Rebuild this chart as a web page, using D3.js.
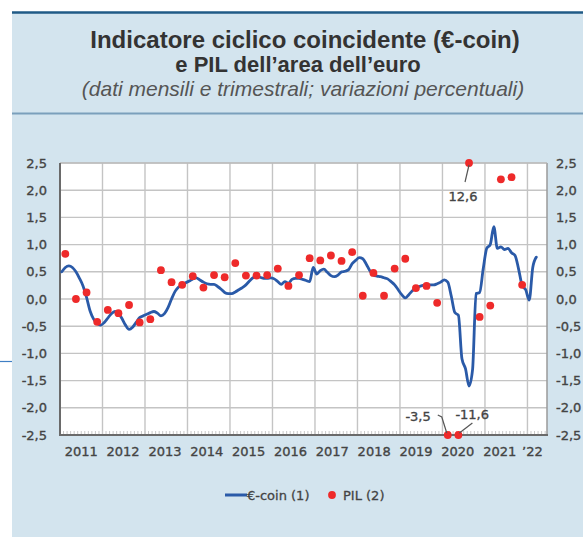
<!DOCTYPE html>
<html><head><meta charset="utf-8">
<script src="https://cdn.jsdelivr.net/npm/d3@7"></script>
<style>html,body{margin:0;padding:0;background:#fff;}svg{display:block;}</style>
</head><body>
<svg id="c" width="583" height="537"></svg>
<script>
// ---- data ----
const years = ["2011","2012","2013","2014","2015","2016","2017","2018","2019","2020","2021","2022"];
const yearLabels = ["2011","2012","2013","2014","2015","2016","2017","2018","2019","2020","2021","’22"];
const yTicks = [-2.5,-2.0,-1.5,-1.0,-0.5,0.0,0.5,1.0,1.5,2.0,2.5];
// €-coin, monthly values, Jan 2011 - Mar 2022
const ecoin2011 = [0.50,0.58,0.61,0.58,0.50,0.38,0.24,0.03,-0.22,-0.37,-0.45,-0.48];
const ecoin2012 = [-0.43,-0.35,-0.27,-0.23,-0.26,-0.36,-0.48,-0.56,-0.52,-0.43,-0.34,-0.31];
const ecoin2013 = [-0.28,-0.25,-0.23,-0.26,-0.31,-0.27,-0.16,0.00,0.14,0.22,0.26,0.30];
const ecoin2014 = [0.33,0.37,0.39,0.35,0.31,0.28,0.27,0.27,0.23,0.18,0.12,0.10];
const ecoin2015 = [0.10,0.13,0.17,0.21,0.26,0.33,0.39,0.41,0.40,0.38,0.38,0.39];
const ecoin2016 = [0.37,0.32,0.27,0.32,0.29,0.36,0.38,0.38,0.36,0.34,0.32,0.58];
const ecoin2017 = [0.46,0.52,0.55,0.49,0.43,0.41,0.44,0.50,0.51,0.54,0.65,0.71];
const ecoin2018 = [0.76,0.74,0.64,0.52,0.44,0.42,0.41,0.39,0.37,0.32,0.26,0.17];
const ecoin2019 = [0.08,0.02,0.08,0.15,0.20,0.23,0.25,0.26,0.26,0.26,0.28,0.31];
const ecoin2020 = [0.35,0.31,0.05,-0.25,-0.30,-1.10,-1.28,-1.60,-1.30,0.10,0.12,0.55];
const ecoin2021 = [0.93,1.00,1.33,0.93,0.96,0.91,0.93,0.85,0.80,0.55,0.25,0.17];
const ecoin2022 = [-0.02,0.58,0.77];
// PIL, quarterly q/q % change, Q1 2011 - Q4 2021
const pil2011 = [0.83,0.00,0.12,-0.42];
const pil2012 = [-0.20,-0.26,-0.11,-0.43];
const pil2013 = [-0.37,0.53,0.31,0.26];
const pil2014 = [0.42,0.21,0.44,0.40];
const pil2015 = [0.66,0.43,0.43,0.44];
const pil2016 = [0.56,0.24,0.44,0.75];
const pil2017 = [0.71,0.80,0.70,0.86];
const pil2018 = [0.06,0.48,0.06,0.56];
const pil2019 = [0.74,0.20,0.24,-0.07];
const pil2020 = [-3.5,-11.6,12.6,-0.33];
const pil2021 = [-0.12,2.20,2.24,0.26];
const legendLabels = ["€-coin (1)","PIL (2)"];
const titleLines = ["Indicatore ciclico coincidente (€-coin)","e PIL dell’area dell’euro"];
const subtitle = "(dati mensili e trimestrali; variazioni percentuali)";

const ecoinByYear = [ecoin2011,ecoin2012,ecoin2013,ecoin2014,ecoin2015,ecoin2016,ecoin2017,ecoin2018,ecoin2019,ecoin2020,ecoin2021,ecoin2022];
const pilByYear = [pil2011,pil2012,pil2013,pil2014,pil2015,pil2016,pil2017,pil2018,pil2019,pil2020,pil2021];
const ecoin = [];
ecoinByYear.forEach((arr,i)=>arr.forEach((v,m)=>ecoin.push({t:+years[i]+(m+0.5)/12, v})));
const pil = [];
pilByYear.forEach((arr,i)=>arr.forEach((v,q)=>pil.push({t:+years[i]+(q+0.5)/4, v})));

// ---- layout ----
const svg = d3.select("#c");
const L=60, R=547, T=163, B=435;
const x = d3.scaleLinear().domain([2011, 2022.46]).range([L,R]);
const y = d3.scaleLinear().domain([-2.5,2.5]).range([B,T]);
const fmt = v => d3.format(".1f")(v).replace(".",",").replace("−","-");
const font = "'DejaVu Sans', Verdana, sans-serif";
const txtCol = "#444";

// panel
svg.append("rect").attr("x",12).attr("y",12).attr("width",571).attr("height",525).attr("fill","#d3e4ee");
svg.append("line").attr("x1",12).attr("x2",583).attr("y1",12.5).attr("y2",12.5).attr("stroke","#1f5a86").attr("stroke-width",2.5);
svg.append("line").attr("x1",12).attr("x2",583).attr("y1",113.5).attr("y2",113.5).attr("stroke","#7a9fbb").attr("stroke-width",2);
svg.append("line").attr("x1",0).attr("x2",12).attr("y1",361.5).attr("y2",361.5).attr("stroke","#3f7fc4").attr("stroke-width",1.2);

// titles
svg.append("text").attr("x",305).attr("y",48).attr("text-anchor","middle")
  .attr("font-family","'Liberation Sans', Arial, sans-serif").attr("font-weight","bold").attr("font-size",24).attr("fill","#333")
  .text(titleLines[0]);
svg.append("text").attr("x",298).attr("y",72).attr("text-anchor","middle")
  .attr("font-family","'Liberation Sans', Arial, sans-serif").attr("font-weight","bold").attr("font-size",22).attr("fill","#333")
  .text(titleLines[1]);
svg.append("text").attr("x",303).attr("y",96).attr("text-anchor","middle")
  .attr("font-family","'Liberation Sans', Arial, sans-serif").attr("font-style","italic").attr("font-size",21).attr("fill","#555")
  .text(subtitle);

// plot background
svg.append("rect").attr("x",L).attr("y",T).attr("width",R-L).attr("height",B-T).attr("fill","#fff");

// grid
const g = svg.append("g");
g.selectAll("line.h").data(yTicks.filter(d=>d>-2.5)).join("line")
  .attr("x1",L).attr("x2",R).attr("y1",d=>y(d)).attr("y2",d=>y(d))
  .attr("stroke","#c4c4c4").attr("stroke-width",1.4);
g.selectAll("line.v").data(years.slice(1).map(Number)).join("line")
  .attr("y1",T).attr("y2",B).attr("x1",d=>x(d)).attr("x2",d=>x(d))
  .attr("stroke","#c4c4c4").attr("stroke-width",1.4);
svg.append("line").attr("x1",R).attr("x2",R).attr("y1",T).attr("y2",B).attr("stroke","#9a9a9a").attr("stroke-width",1.5);
svg.append("line").attr("x1",L).attr("x2",R).attr("y1",T).attr("y2",T).attr("stroke","#b5b5b5").attr("stroke-width",1.2);

// monthly minor ticks on bottom
const months = d3.range(1, 12*11+6).map(i=>2011+i/12);
svg.append("g").selectAll("line").data(months).join("line")
  .attr("x1",d=>x(d)).attr("x2",d=>x(d)).attr("y1",B).attr("y2",B-4)
  .attr("stroke","#c8c8c8").attr("stroke-width",1);

// axes lines
svg.append("line").attr("x1",L).attr("x2",L).attr("y1",T).attr("y2",B+1).attr("stroke","#6a6a6a").attr("stroke-width",2);
svg.append("line").attr("x1",L-1).attr("x2",R+1).attr("y1",B).attr("y2",B).attr("stroke","#6a6a6a").attr("stroke-width",2);

// y labels
const yl = svg.append("g").attr("font-family",font).attr("font-size",13).attr("fill",txtCol)
  .attr("stroke",txtCol).attr("stroke-width",0.35);
yl.selectAll("text.l").data(yTicks).join("text").attr("class","l")
  .attr("x",47).attr("y",d=>y(d)+4.5).attr("text-anchor","end").text(fmt);
yl.selectAll("text.r").data(yTicks).join("text").attr("class","r")
  .attr("x",556).attr("y",d=>y(d)+4.5).attr("text-anchor","start").text(fmt);

// x labels (label positions follow the original's slightly compressed spacing)
const xLab = d3.scalePoint().domain(yearLabels.slice(0,11)).range([x(2011.5), x(2021.5)-6.5]);
svg.append("g").attr("font-family",font).attr("font-size",13).attr("fill",txtCol)
  .attr("stroke",txtCol).attr("stroke-width",0.35)
  .selectAll("text").data(yearLabels).join("text")
  .attr("x",(d,i)=> i<11 ? xLab(d) : x(+years[i])+5)
  .attr("y",456).attr("text-anchor","middle").text(d=>d);

// €-coin line
const line = d3.line().x(d=>x(d.t)).y(d=>y(d.v)).curve(d3.curveMonotoneX);
svg.append("path").datum(ecoin).attr("d",line).attr("fill","none")
  .attr("stroke","#2a5aa8").attr("stroke-width",2.8).attr("stroke-linejoin","round").attr("stroke-linecap","round");

// PIL dots (clamped to axis range)
const clamp = v => Math.max(-2.5, Math.min(2.5, v));
svg.append("g").selectAll("circle").data(pil).join("circle")
  .attr("cx",d=>x(d.t)).attr("cy",d=>y(clamp(d.v))).attr("r",3.9).attr("fill","#ee2a2a");

// annotations for out-of-range values
const ann = svg.append("g").attr("font-family",font).attr("font-size",13).attr("fill",txtCol)
  .attr("stroke",txtCol).attr("stroke-width",0.35);
const out = pil.filter(d=>Math.abs(d.v)>2.5);
const pUp = out.find(d=>d.v>0), pA = out.filter(d=>d.v<0)[0], pB = out.filter(d=>d.v<0)[1];
const lead = "#555";
svg.append("path").attr("d",`M${x(pUp.t)},${y(2.5)+2}L${x(pUp.t)-4},${y(2.5)+19}`).attr("stroke",lead).attr("fill","none").attr("stroke-width",1.2);
ann.append("text").attr("x",x(pUp.t)-6).attr("y",y(2.5)+38).attr("text-anchor","middle").text(fmt(pUp.v));
svg.append("path").attr("d",`M${x(pA.t)-10},${y(-2.5)-20}L${x(pA.t)-6},${y(-2.5)-18}L${x(pA.t)-1},${y(-2.5)-2}`).attr("stroke",lead).attr("fill","none").attr("stroke-width",1.2);
ann.append("text").attr("x",x(pA.t)-17).attr("y",y(-2.5)-14).attr("text-anchor","end").text(fmt(pA.v));
svg.append("path").attr("d",`M${x(pB.t)+14},${y(-2.5)-12}L${x(pB.t)+1},${y(-2.5)-2}`).attr("stroke",lead).attr("fill","none").attr("stroke-width",1.2);
ann.append("text").attr("x",x(pB.t)-3).attr("y",y(-2.5)-16).attr("text-anchor","start").text(fmt(pB.v));

// legend
const lg = svg.append("g");
lg.append("line").attr("x1",225).attr("x2",247).attr("y1",495).attr("y2",495).attr("stroke","#2a5aa8").attr("stroke-width",3);
lg.append("text").attr("x",247).attr("y",500).attr("font-family",font).attr("font-size",13).attr("fill",txtCol)
  .attr("stroke",txtCol).attr("stroke-width",0.3).text(legendLabels[0]);
lg.append("circle").attr("cx",332).attr("cy",495).attr("r",3.9).attr("fill","#ee2a2a");
lg.append("text").attr("x",343).attr("y",500).attr("font-family",font).attr("font-size",13).attr("fill",txtCol)
  .attr("stroke",txtCol).attr("stroke-width",0.3).text(legendLabels[1]);
</script>
</body></html>
